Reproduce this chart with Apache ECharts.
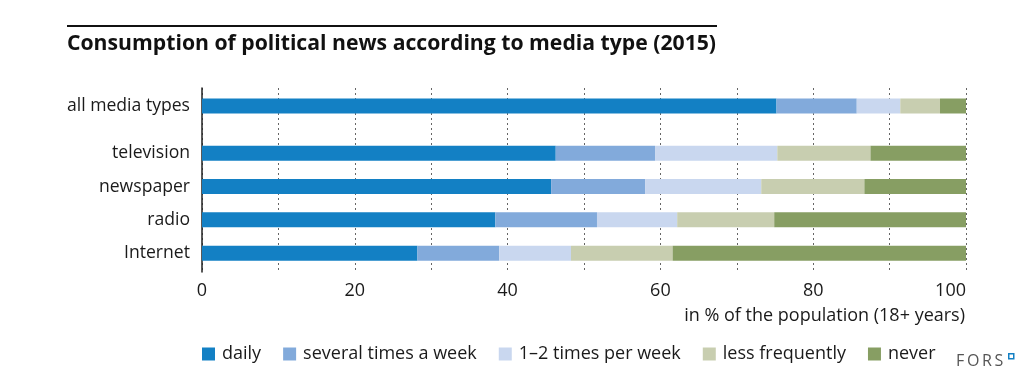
<!DOCTYPE html>
<html>
<head>
<meta charset="utf-8">
<script src="https://cdn.jsdelivr.net/npm/echarts@6/dist/echarts.min.js"></script>
<style>html,body{margin:0;padding:0;background:#fff;}#c{width:1035px;height:389px;}</style>
</head>
<body>
<div id="c"></div>
<script>
const seriesNames = ['daily', 'several times a week', '1–2 times per week', 'less frequently', 'never'];
const colors = ['#1380c4', '#82aadb', '#c9d7ef', '#c8ceb0', '#879e63'];
const allCategory = ['all media types'];
const allValues = [75.2, 10.5, 5.7, 5.2, 3.4];
const mediaCategories = ['television', 'newspaper', 'radio', 'Internet'];
const daily = [46.3, 45.7, 38.4, 28.2];
const severalWeek = [13.0, 12.3, 13.3, 10.7];
const onceTwiceWeek = [16.0, 15.2, 10.5, 9.4];
const lessFrequently = [12.2, 13.5, 12.7, 13.3];
const never = [12.5, 13.3, 25.1, 38.4];
const xTicks = [0, 20, 40, 60, 80, 100];
const axisTitle = 'in % of the population (18+ years)';
const chartTitle = 'Consumption of political news according to media type (2015)';

const mediaSeriesData = [daily, severalWeek, onceTwiceWeek, lessFrequently, never];
const FONT = '"Open Sans", sans-serif';
const chart = echarts.init(document.getElementById('c'));

const series = [];
seriesNames.forEach((n, i) => {
  series.push({
    name: n, type: 'bar', stack: 'all', xAxisIndex: 0, yAxisIndex: 0,
    barWidth: 15, itemStyle: { color: colors[i] }, data: [allValues[i]], z: 3
  });
});
seriesNames.forEach((n, i) => {
  series.push({
    name: n, type: 'bar', stack: 'media', xAxisIndex: 1, yAxisIndex: 1,
    barWidth: 15, itemStyle: { color: colors[i] }, data: mediaSeriesData[i], z: 3
  });
});

const hiddenX = { type: 'value', min: 0, max: 100, show: false };
const catLabel = { fontSize: 17.6, color: '#1a1a1a', fontFamily: FONT, margin: 12 };

chart.setOption({
  animation: false,
  color: colors,
  title: [
    { text: chartTitle, left: 62, top: 28, textStyle: { fontSize: 21.2, fontWeight: 'bold', color: '#111', fontFamily: FONT } },
    { text: axisTitle, right: 65, top: 302, textStyle: { fontSize: 18, fontWeight: 'normal', color: '#1a1a1a', fontFamily: FONT } }
  ],
  grid: [
    { left: 202, right: 69, top: 89.5, height: 33 },
    { left: 202, right: 69, top: 136.5, height: 133.3 },
    { left: 202, right: 69, top: 88, height: 184 }
  ],
  xAxis: [
    Object.assign({ gridIndex: 0 }, hiddenX),
    Object.assign({ gridIndex: 1 }, hiddenX),
    {
      gridIndex: 2, type: 'value', min: 0, max: 100, interval: 10,
      axisLine: { show: false }, axisTick: { show: false },
      splitLine: { show: true, lineStyle: { color: '#666', width: 1, type: [2, 3] } },
      axisLabel: {
        fontSize: 18, color: '#1a1a1a', fontFamily: FONT, margin: 10, alignMaxLabel: 'right',
        formatter: v => xTicks.indexOf(v) >= 0 ? String(v) : ''
      }
    }
  ],
  yAxis: [
    { gridIndex: 0, type: 'category', data: allCategory, axisLine: { show: false }, axisTick: { show: false }, axisLabel: catLabel },
    { gridIndex: 1, type: 'category', inverse: true, data: mediaCategories, axisLine: { show: false }, axisTick: { show: false }, axisLabel: catLabel },
    { gridIndex: 2, type: 'value', min: 0, max: 1, axisLine: { show: true, lineStyle: { color: '#222', width: 1.5 } }, axisTick: { show: false }, axisLabel: { show: false }, splitLine: { show: false } }
  ],
  legend: {
    left: 197, top: 340, icon: 'rect', itemWidth: 13, itemHeight: 13, itemGap: 22,
    data: seriesNames,
    textStyle: { fontSize: 18, color: '#1a1a1a', fontFamily: FONT, padding: [0, 0, 0, 2] }
  },
  graphic: [
    { type: 'rect', left: 67, top: 25, shape: { width: 650, height: 2 }, style: { fill: '#111' } },
    { type: 'text', left: 956, top: 353, style: { text: 'F\u2009O\u2009R\u2009S', fontSize: 16, fill: '#555', fontFamily: FONT } },
    { type: 'rect', left: 1008, top: 353, shape: { width: 5, height: 5 }, style: { fill: '#fff', stroke: '#1380c4', lineWidth: 1.5 } }
  ],
  series: series
});
</script>
</body>
</html>
